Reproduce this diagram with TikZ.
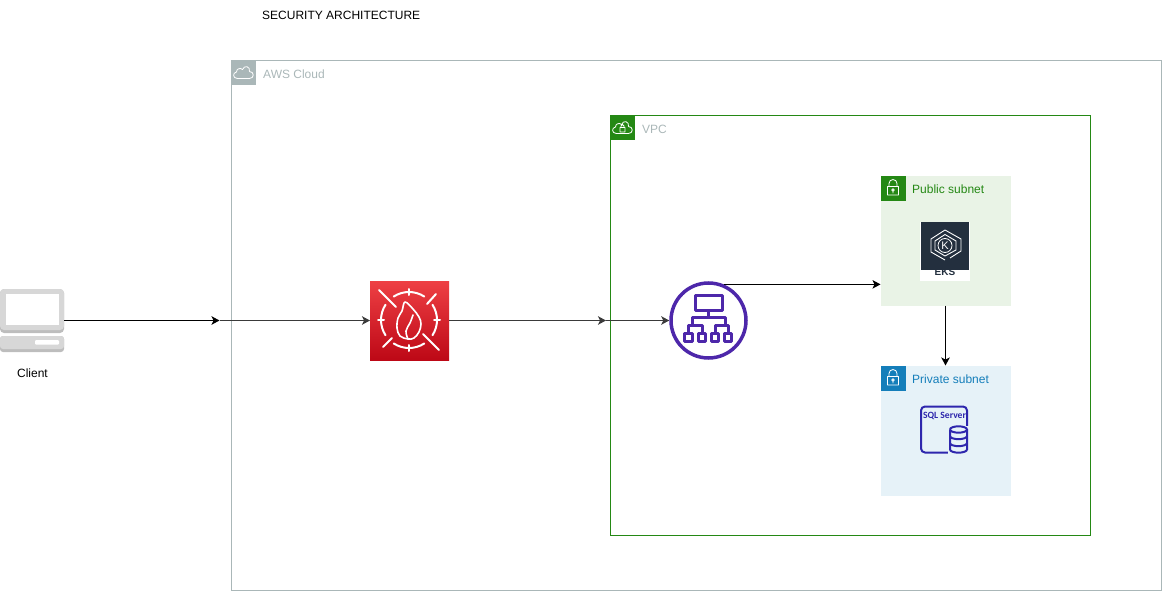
\documentclass[tikz,border=0pt]{standalone}
\usepackage{fontspec}
\setmainfont{Liberation Sans}
\newfontfamily\sqlfont{Carlito}
\usetikzlibrary{arrows.meta}
\definecolor{cloudgray}{HTML}{AAB7B8}
\definecolor{vpcgreen}{HTML}{248814}
\definecolor{subblue}{HTML}{147EBA}
\definecolor{pubfill}{HTML}{E9F3E6}
\definecolor{privfill}{HTML}{E6F2F8}
\definecolor{lbpurple}{HTML}{4D27AA}
\definecolor{sqlblue}{HTML}{2E27AD}
\definecolor{eksdark}{HTML}{232F3E}
\definecolor{wafdark}{HTML}{BD0816}
\definecolor{waflight}{HTML}{EE4044}
\definecolor{pclight}{HTML}{D7D7D7}
\definecolor{pcdark}{HTML}{BDBDBD}
\definecolor{linegray}{HTML}{3A3A3A}
\tikzset{
  flow/.style={-{Stealth[length=8pt,width=8.5pt,inset=2pt]},line width=1.2pt,black},
  flowgray/.style={flow,draw=linegray},
  title/.style={anchor=west,inner sep=0pt,font=\fontsize{12}{14}\selectfont},
  header/.style={minimum size=25pt,inner sep=0pt,outer sep=0pt,anchor=north west},
  subnet/.style={minimum size=130pt,inner sep=0pt,outer sep=0pt,anchor=north west},
  whiteline/.style={draw=white,line width=2pt,line cap=round,line join=round},
  lbline/.style={draw=lbpurple,line width=3pt,line join=round}
}
% small padlock on the subnet headers
\newcommand{\padlock}[2]{
  \draw[whiteline,line width=.8pt,shift={(#1,#2)}] (-5.5,-1) rectangle (5.5,7.5)
    (-4,-1) -- (-4,-4) arc[start angle=180,end angle=360,radius=4] -- (4,-1)
    (0,2.5) circle[radius=1.3] (0,3.8) -- (0,5.5);
}
% cloud outline on the container headers
\newcommand{\cloudicon}[3]{
  \draw[whiteline,line width=#3,shift={(#1,#2)}] (-6,6) .. controls (-11,6) and (-11,0) .. (-7,-.5)
    .. controls (-7,-4) and (-3,-5) .. (-1,-3) .. controls (1,-8) and (7,-6) .. (6,-1)
    .. controls (11,-1) and (11,6) .. (6,6) -- cycle;
}
\begin{document}
\begin{tikzpicture}[x=1pt,y=-1pt]
\useasboundingbox (0,0) rectangle (1162,591);

\node[title] (heading) at (262,15) {SECURITY ARCHITECTURE};

% containers
\node[draw=cloudgray,line width=1pt,minimum width=930pt,minimum height=530pt,inner sep=0pt,outer sep=0pt,anchor=north west] (cloudbox) at (231.5,60.5) {};
\node[header,fill=cloudgray] (cloudhead) at (231,60) {};
\cloudicon{243.5}{72.5}{.8pt}
\node[title,text=cloudgray] (cloudtitle) at (263,74) {AWS Cloud};

\node[draw=vpcgreen,line width=1pt,minimum width=480pt,minimum height=420pt,inner sep=0pt,outer sep=0pt,anchor=north west] (vpcbox) at (610.5,115.5) {};
\node[header,fill=vpcgreen] (vpchead) at (610,115) {};
\cloudicon{622.5}{127.5}{.8pt}
\draw[whiteline,line width=.8pt] (620,127.5) rectangle (625,132) (621,127.5) -- (621,126) arc[start angle=180,end angle=360,radius=1.5] -- (624,127.5);
\node[title,text=cloudgray] (vpctitle) at (642,129) {VPC};

\node[subnet,fill=pubfill] (pubnet) at (880.5,175.5) {};
\node[header,fill=vpcgreen] (pubhead) at (880.5,175.5) {};
\padlock{893}{187.5}
\node[title,text=vpcgreen] (pubtitle) at (912,189) {Public subnet};

\node[subnet,fill=privfill] (privnet) at (880.5,365.5) {};
\node[header,fill=subblue] (privhead) at (880.5,365.5) {};
\padlock{893}{377.5}
\node[title,text=subblue] (privtitle) at (912,379) {Private subnet};

% client
\node[minimum width=64pt,minimum height=64pt,inner sep=0pt,outer sep=0pt] (client) at (32,320.5) {};
\fill[pcdark,rounded corners=4pt] (0,289) rectangle (64,333);
\fill[pclight,rounded corners=4pt] (0,289) rectangle (64,330);
\fill[white] (6,294) rectangle (59,325);
\fill[pcdark,rounded corners=3pt] (0,336) rectangle (64,352);
\fill[pclight,rounded corners=3pt] (0,336) rectangle (64,349);
\fill[white,rounded corners=1pt] (35,340) rectangle (59,344.5);
\node[font=\fontsize{12}{14}\selectfont,inner sep=0pt] (clientlabel) at (32.5,373.5) {Client};

% firewall
\node[minimum size=79pt,inner sep=0pt,outer sep=0pt,top color=waflight,bottom color=wafdark] (waf) at (409.5,320.5) {};
\begin{scope}[shift={(409,320)}]
\foreach \ang in {0,90,180,270}{
  \draw[whiteline] (\ang-33:28) arc[start angle=\ang-33,end angle=\ang+33,radius=28];
  \draw[whiteline] (\ang:25) -- (\ang:31);
}
\draw[whiteline] (-30,-30) -- (-13,-13) (27,-26) -- (18,-16) (-26,27) -- (-17,18) (30,30) -- (14,14);
\draw[whiteline,line width=1.6pt] plot[smooth cycle,tension=.6] coordinates {(-1,19) (-9,16) (-12,8) (-11,-2) (-7,-9) (-4,-18) (4,-11) (10,-3) (12,4) (10,12) (5,18)};
\draw[whiteline,line width=1.6pt] plot[smooth,tension=.7] coordinates {(-1,19) (-3,11) (1,3) (4,-5)};
\end{scope}

% load balancer
\node[circle,draw=lbpurple,line width=3.5pt,minimum size=75pt,inner sep=0pt,outer sep=1.75pt] (lb) at (708.5,320.5) {};
\draw[lbline] (695,295) rectangle (722,310);
\draw[lbline] (708.5,310) -- (708.5,317) (692,325) -- (692,317) -- (725,317) -- (725,325)
  (688.5,333.5) -- (688.5,325) -- (702,325) -- (702,333.5)
  (715,333.5) -- (715,325) -- (728,325) -- (728,333.5);
\foreach \boxx in {688.5,702,715,728}
  \draw[lbline] (\boxx-3.8,333.5) rectangle (\boxx+3.8,341);

% eks
\node[fill=white,minimum width=50pt,minimum height=59pt,inner sep=0pt,outer sep=0pt,anchor=north west] (eks) at (920,222) {};
\node[font=\bfseries\fontsize{10}{10}\selectfont,text=eksdark,inner sep=0pt] (ekslabel) at (945,272.5) {EKS};
\fill[eksdark] (921,222) rectangle (969,270);
\draw[white,line width=.9pt,line join=round] (945,230) -- (961,239) -- (961,251) -- (950,258) (945,260) -- (931,252) -- (931,239) -- (945,230)
  (945,234.5) -- (956,241) -- (956,250) -- (945,256) -- (935,250) -- (935,241) -- cycle;
\draw[white,line width=.8pt] (945,245.5) circle[radius=7];
\node[text=white,font=\fontsize{11}{11}\selectfont,inner sep=0pt] (ekstag) at (945,246) {K};

% database
\node[draw=sqlblue,line width=2pt,rounded corners=4pt,minimum width=46pt,minimum height=46pt,inner sep=0pt,outer sep=0pt,anchor=north west] (sql) at (921,406.5) {};
\node[text=sqlblue,font=\sqlfont\bfseries\fontsize{9.6}{10}\selectfont,inner sep=0pt] (sqllabel) at (944.5,416) {SQL Server};
\fill[privfill] (948,426) rectangle (970,455);
\draw[sqlblue,line width=2pt] (950,429.5) arc[x radius=8.5,y radius=3.2,start angle=180,end angle=-180] (950,429.5) -- (950,449.5)
  arc[x radius=8.5,y radius=3.2,start angle=180,end angle=0] -- (967,429.5)
  (950,436) arc[x radius=8.5,y radius=3.2,start angle=180,end angle=0]
  (950,443) arc[x radius=8.5,y radius=3.2,start angle=180,end angle=0];

% connectors
\coordinate (cloudin) at (219.5,320.5);
\coordinate (vpcin) at (606,320.5);
\draw[flow] (client.east) -- (cloudin);
\draw[flowgray] (cloudin) -- (waf.west);
\draw[flowgray] (waf.east) -- (vpcin);
\draw[flowgray] (vpcin) -- (lb.west);
\draw[flow] (lb.67) -- (pubnet.west |- lb.67);
\draw[flow] (pubnet.south) -- (privnet.north);
\end{tikzpicture}
\end{document}
